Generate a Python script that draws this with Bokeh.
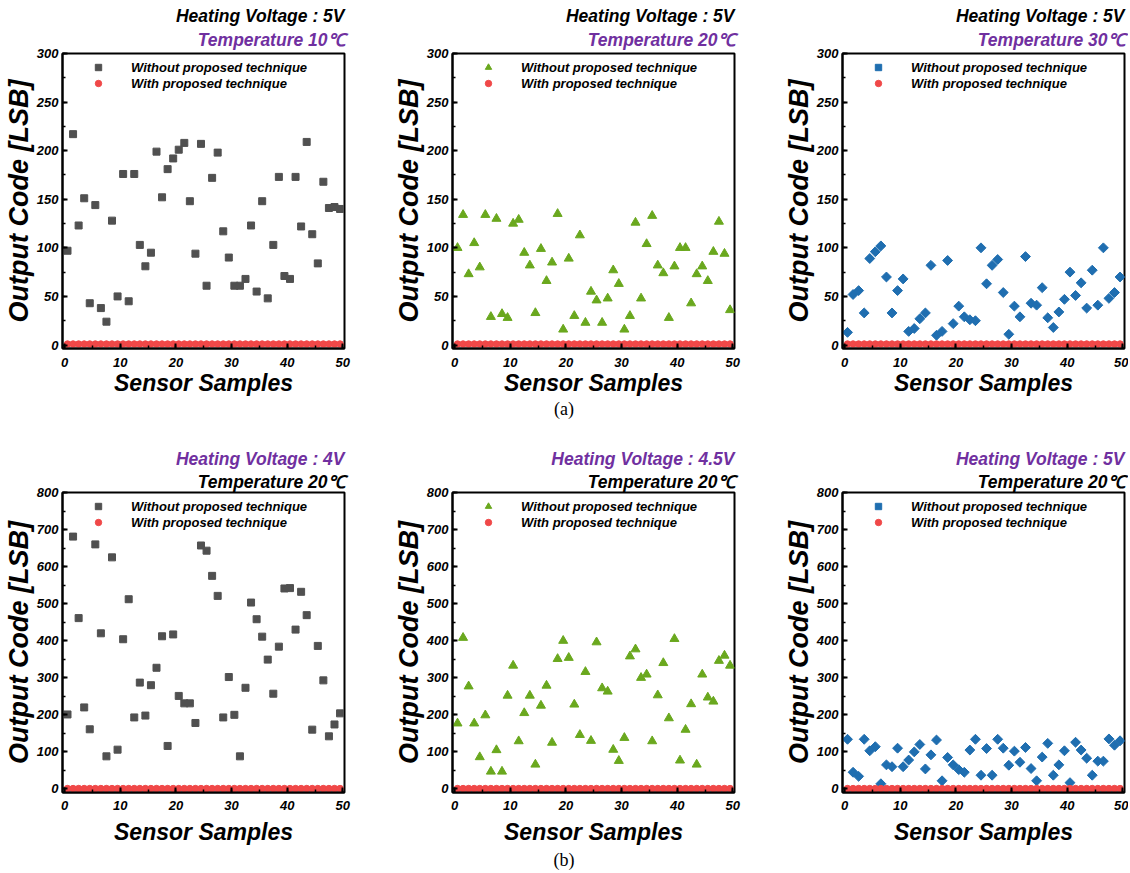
from bokeh.plotting import figure
from bokeh.models import Title, Legend, LegendItem, SingleIntervalTicker, Range1d, Div
from bokeh.layouts import column, row
from bokeh.embed import file_html
from bokeh.resources import INLINE

# ---------------- data ----------------
samples = [i + 0.5 for i in range(50)]

# (a) heating voltage 5V, temperature 10/20/30 C
wo_t10 = [97, 217, 123, 151, 43, 144, 38, 24, 128, 50,
          176, 45, 176, 103, 81, 95, 199, 152, 181, 192,
          201, 208, 148, 94, 207, 61, 172, 198, 117, 90,
          61, 61, 68, 123, 55, 148, 48, 103, 173, 71,
          68, 173, 122, 209, 114, 84, 168, 141, 142, 140]
wo_t20 = [100, 134, 73, 105, 80, 134, 29, 130, 32, 28,
          125, 129, 95, 82, 33, 99, 66, 85, 135, 16,
          89, 30, 113, 23, 55, 46, 23, 48, 77, 63,
          16, 30, 126, 48, 104, 133, 82, 74, 28, 81,
          100, 100, 43, 73, 81, 66, 96, 127, 94, 36]
wo_t30 = [13, 52, 56, 33, 89, 96, 102, 70, 33, 56,
          68, 14, 17, 27, 33, 82, 10, 14, 87, 22,
          40, 29, 26, 25, 100, 63, 82, 88, 54, 11,
          40, 29, 91, 43, 41, 59, 28, 18, 34, 47,
          75, 51, 64, 38, 77, 41, 100, 48, 54, 70]

# (b) temperature 20 C, heating voltage 4/4.5/5 V
wo_v40 = [201, 681, 461, 220, 161, 660, 420, 88, 625, 106,
          404, 512, 193, 287, 198, 280, 327, 412, 116, 417,
          251, 231, 231, 178, 657, 643, 575, 521, 193, 302,
          200, 88, 273, 503, 458, 411, 349, 257, 384, 541,
          542, 430, 532, 469, 160, 386, 293, 142, 174, 204]
wo_v45 = [177, 408, 277, 177, 86, 199, 47, 105, 47, 252,
          333, 129, 205, 252, 66, 225, 279, 125, 351, 400,
          354, 228, 146, 316, 130, 396, 272, 263, 106, 76,
          138, 358, 377, 300, 309, 129, 253, 340, 191, 405,
          77, 160, 229, 66, 309, 247, 236, 346, 360, 333]
wo_v50 = [134, 45, 34, 134, 103, 114, 14, 65, 60, 110,
          60, 78, 100, 120, 54, 92, 132, 22, 85, 65,
          52, 45, 105, 134, 37, 109, 37, 134, 110, 64,
          102, 72, 112, 55, 22, 86, 123, 37, 65, 103,
          17, 126, 105, 83, 37, 75, 75, 135, 118, 130]

# with proposed technique: essentially zero everywhere
with_tech = [1, 1, 1, 1, 1, 1, 1, 1, 1, 1,
             1, 1, 1, 1, 1, 1, 1, 1, 1, 1,
             1, 1, 1, 1, 1, 1, 1, 1, 1, 1,
             1, 1, 1, 1, 1, 1, 1, 1, 1, 1,
             1, 1, 1, 1, 1, 1, 1, 1, 1, 1]

legend_wo = "Without proposed technique"
legend_w = "With proposed technique"

GRAY = "#505050"
GREEN = "#6aa81e"
BLUE = "#1f6eb0"
RED = "#f04848"
PURPLE = "#7030a0"
FONT = "Liberation Sans"


def make_panel(values, marker, angle, color, msize, t_heat, c_heat, t_temp, c_temp,
               ymax, ystep, width, height, b_left, b_right, b_top, b_bottom,
               xtick_standoff, xlab_standoff, st_inner, st_outer):
    p = figure(width=width, height=height,
               x_range=Range1d(-0.4, 50.3), y_range=Range1d(-ymax * 0.012, ymax),
               output_backend="svg", toolbar_location=None, title=None,
               min_border_left=b_left, min_border_right=b_right,
               min_border_top=b_top, min_border_bottom=b_bottom)
    p.background_fill_color = "white"
    p.border_fill_color = "white"
    p.outline_line_color = "black"
    p.outline_line_width = 2
    p.xgrid.visible = False
    p.ygrid.visible = False

    p.xaxis.ticker = SingleIntervalTicker(interval=10, num_minor_ticks=2)
    p.yaxis.ticker = SingleIntervalTicker(interval=ystep, num_minor_ticks=2)
    for ax in (p.xaxis[0], p.yaxis[0]):
        ax.axis_line_width = 2
        ax.axis_line_color = "black"
        ax.major_tick_in = 5
        ax.major_tick_out = 0
        ax.minor_tick_in = 3
        ax.minor_tick_out = 0
        ax.major_tick_line_width = 2
        ax.minor_tick_line_width = 1.5
        ax.major_label_text_font = FONT
        ax.major_label_text_font_style = "bold italic"
        ax.major_label_text_font_size = "13px"
        ax.major_label_text_color = "black"
        ax.axis_label_text_font = FONT
        ax.axis_label_text_font_style = "bold italic"
        ax.axis_label_text_color = "black"
    p.xaxis.axis_label = "Sensor Samples"
    p.yaxis.axis_label = "Output Code [LSB]"
    p.xaxis.axis_label_text_font_size = "23px"
    p.yaxis.axis_label_text_font_size = "27px"
    p.xaxis.major_label_standoff = xtick_standoff
    p.xaxis.axis_label_standoff = xlab_standoff
    p.yaxis.major_label_standoff = 4
    p.yaxis.axis_label_standoff = 0

    r1 = p.scatter(samples, values, marker=marker, size=msize, angle=angle,
                   fill_color=color, line_color=color)
    r2 = p.scatter(samples, with_tech, marker="circle", size=6.5,
                   fill_color=RED, line_color=RED)

    leg = Legend(items=[LegendItem(label=legend_wo, renderers=[r1]),
                        LegendItem(label=legend_w, renderers=[r2])],
                 location="top_left", margin=6, padding=0,
                 glyph_width=60, glyph_height=16, label_height=16,
                 label_standoff=3, spacing=0,
                 border_line_color=None, background_fill_alpha=0,
                 label_text_font=FONT, label_text_font_style="bold italic",
                 label_text_font_size="13px", label_text_color="black")
    p.add_layout(leg, "center")

    t2 = Title(text=t_temp, align="right", text_font=FONT,
               text_font_style="bold italic", text_font_size="17.5px",
               text_color=c_temp, standoff=st_inner)
    t1 = Title(text=t_heat, align="right", text_font=FONT,
               text_font_style="bold italic", text_font_size="17.5px",
               text_color=c_heat, standoff=st_outer)
    p.add_layout(t2, "above")
    p.add_layout(t1, "above")
    return p


top_specs = [
    (wo_t10, "square", 0.0, GRAY, 7, "Temperature 10\u2103"),
    (wo_t20, "triangle", 0.0, GREEN, 9, "Temperature 20\u2103"),
    (wo_t30, "square", 0.785398, BLUE, 7, "Temperature 30\u2103"),
]
bot_specs = [
    (wo_v40, "square", 0.0, GRAY, 7, "Heating Voltage : 4V"),
    (wo_v45, "triangle", 0.0, GREEN, 9, "Heating Voltage : 4.5V"),
    (wo_v50, "square", 0.785398, BLUE, 7, "Heating Voltage : 5V"),
]

widths = [390, 390, 348]
rights = [46, 46, 4]

top_row = []
for i, (vals, mk, ang, col, ms, ttemp) in enumerate(top_specs):
    top_row.append(make_panel(vals, mk, ang, col, ms, "Heating Voltage : 5V", "black",
                              ttemp, PURPLE, 300, 50, widths[i], 399,
                              61, rights[i], 53, 51, 9, 0, 7, -2))

bot_row = []
for i, (vals, mk, ang, col, ms, theat) in enumerate(bot_specs):
    bot_row.append(make_panel(vals, mk, ang, col, ms, theat, PURPLE,
                              "Temperature 20\u2103", "black", 800, 100, widths[i], 429,
                              61, rights[i], 73, 56, 8, 6, 2, 0))

div_style = {"text-align": "center", "font-family": "Liberation Serif",
             "font-size": "18px", "color": "black"}
div_a = Div(text="(a)", width=1128, height=20, margin=0,
            styles=dict(div_style, **{"line-height": "20px"}))
div_b = Div(text="(b)", width=1128, height=24, margin=0,
            styles=dict(div_style, **{"line-height": "24px"}))

layout = column(row(*top_row), div_a, row(*bot_row), div_b)

open("out.html", "w").write(file_html(layout, INLINE))
